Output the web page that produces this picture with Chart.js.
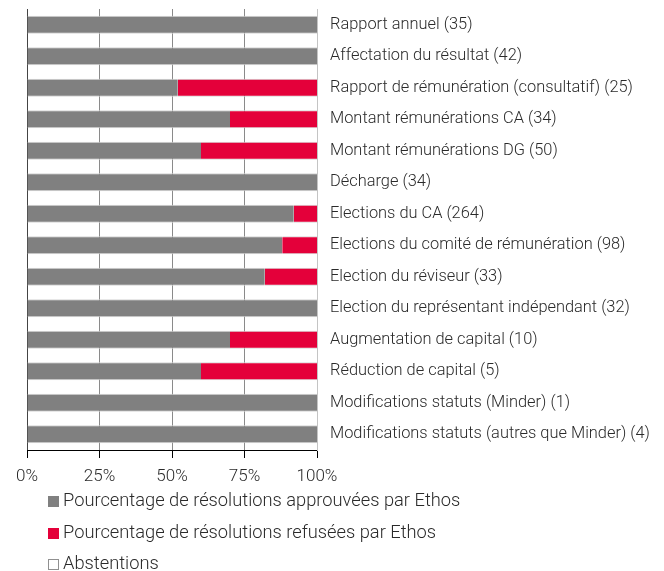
<!DOCTYPE html>
<html>
<head>
<meta charset="utf-8">
<script src="https://cdn.jsdelivr.net/npm/chart.js@4/dist/chart.umd.min.js"></script>
<style>
  body { margin: 0; background: #fff; }
  #wrap { position: relative; width: 664px; height: 571px; }
  #legend { position: absolute; left: 48px; top: 489px; font-family: Roboto, "Liberation Sans", sans-serif; font-weight: 300; font-size: 18.3px; color: #2a2a2a; }
  #legend div { height: 31.5px; display: flex; align-items: flex-start; white-space: nowrap; }
  #legend span.box { display: inline-block; width: 11px; height: 11px; margin: 7px 4px 0 0; box-sizing: border-box; }
</style>
</head>
<body>
<div id="wrap">
  <canvas id="chart-votes" width="664" height="571"></canvas>
  <div id="legend"></div>
</div>
<script>
const categories = [
  'Rapport annuel (35)',
  'Affectation du résultat (42)',
  'Rapport de rémunération (consultatif) (25)',
  'Montant rémunérations CA (34)',
  'Montant rémunérations DG (50)',
  'Décharge (34)',
  'Elections du CA (264)',
  'Elections du comité de rémunération (98)',
  'Election du réviseur (33)',
  'Election du représentant indépendant (32)',
  'Augmentation de capital (10)',
  'Réduction de capital (5)',
  'Modifications statuts (Minder) (1)',
  'Modifications statuts (autres que Minder) (4)'
];
const approved = [100, 100, 52, 70, 60, 100, 92, 88, 82, 100, 70, 60, 100, 100];
const refused  = [0, 0, 48, 30, 40, 0, 8, 12, 18, 0, 30, 40, 0, 0];
const abstain  = [0, 0, 0, 0, 0, 0, 0, 0, 0, 0, 0, 0, 0, 0];
const xTicks = [0, 25, 50, 75, 100];

const FONT = 'Roboto, "Liberation Sans", sans-serif';
const gridColors = ['#444444', '#8a8a8a', '#8a8a8a', '#8a8a8a', '#c4c4c4'];

const datasets = [
  { label: 'Pourcentage de résolutions approuvées par Ethos', data: approved,
    backgroundColor: '#808080', borderColor: '#d4d4d4', legendBorder: '#808080' },
  { label: 'Pourcentage de résolutions refusées par Ethos', data: refused,
    backgroundColor: '#e4003a', borderColor: '#d4d4d4', legendBorder: '#e4003a' },
  { label: 'Abstentions', data: abstain,
    backgroundColor: '#ffffff', borderColor: '#ffffff', legendBorder: '#909090' }
];
datasets.forEach(function (ds, i) {
  ds.borderWidth = i < 2 ? { top: 1, bottom: 1, left: 0, right: 0 } : 0;
  ds.borderSkipped = false;
  ds.barPercentage = 0.57;
  ds.categoryPercentage = 1;
});

const myChart = new Chart(document.getElementById('chart-votes').getContext('2d'), {
  type: 'bar',
  data: { labels: categories, datasets: datasets },
  options: {
    indexAxis: 'y',
    responsive: false,
    animation: false,
    layout: { padding: { top: 9, left: 27, right: 0, bottom: 81 } },
    plugins: { legend: { display: false }, tooltip: { enabled: false } },
    scales: {
      x: {
        stacked: true, min: 0, max: 100,
        afterBuildTicks: function (s) { s.ticks = xTicks.map(function (v) { return { value: v }; }); },
        afterFit: function (s) { s.height = 40; },
        grid: {
          color: function (c) { return gridColors[c.index] || '#8a8a8a'; },
          tickColor: '#000', tickLength: 8, drawTicks: true
        },
        border: { display: true, color: '#000' },
        ticks: {
          padding: 9, color: '#2a2a2a',
          font: { family: FONT, size: 17, weight: '300' },
          callback: function (v) { return v + '%'; }
        }
      },
      y: {
        stacked: true, position: 'right',
        afterFit: function (s) { s.width = 347; s.paddingTop = 0; s.paddingBottom = 0; },
        grid: { display: false, drawTicks: false },
        border: { display: true, color: '#c4c4c4' },
        ticks: { padding: 13, color: '#2a2a2a', font: { family: FONT, size: 16.4, weight: '300' } }
      }
    }
  }
});

const legend = document.getElementById('legend');
datasets.forEach(function (ds) {
  const row = document.createElement('div');
  const box = document.createElement('span');
  box.className = 'box';
  box.style.background = ds.backgroundColor;
  box.style.border = '1px solid ' + ds.legendBorder;
  row.appendChild(box);
  row.appendChild(document.createTextNode(ds.label));
  legend.appendChild(row);
});
</script>
</body>
</html>
